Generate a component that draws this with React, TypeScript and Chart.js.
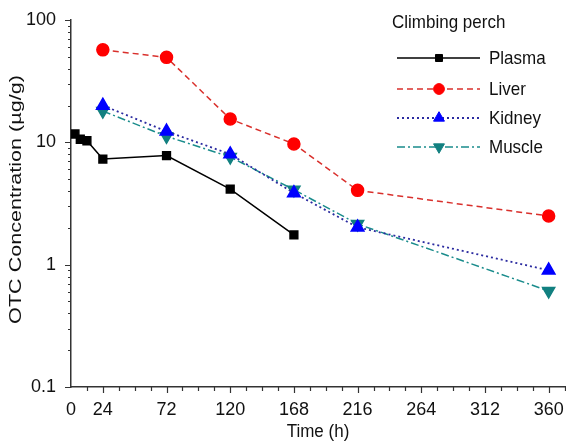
import React, { useEffect, useRef } from "react";
import { Chart, registerables } from "chart.js";
import { drawPoint } from "chart.js/helpers";

Chart.register(...registerables);

const plasmaTimes = [3, 7, 12, 24, 72, 120, 168];
const plasmaValues = [11.7, 10.6, 10.3, 7.3, 7.8, 4.15, 1.75];
const tissueTimes = [24, 72, 120, 168, 216, 360];
const liverValues = [57, 49.5, 15.5, 9.7, 4.05, 2.5];
const kidneyValues = [20, 12.3, 8.0, 3.85, 2.02, 0.9];
const muscleValues = [18, 11.2, 7.6, 4.1, 2.15, 0.61];

const xLabelTicks = [0, 24, 72, 120, 168, 216, 264, 312, 360];
const yLabelTicks = [0.1, 1, 10, 100];
const legendTitle = "Climbing perch";
const seriesNames = ["Plasma", "Liver", "Kidney", "Muscle"];
const xTitle = "Time (h)";
const yTitle = "OTC Concentration (\u00b5g/g)";

const FONT = "'Liberation Sans', Arial, sans-serif";
const AXIS_COLOR = "#333333";
const TEXT_COLOR = "#111111";
const CANVAS_W = 580;

const toPts = (xs: number[], ys: number[]) => xs.map((x, i) => ({ x, y: ys[i] }));

const axisTicksPlugin = {
  id: "axisTicks",
  afterDraw(chart: any) {
    const { ctx, chartArea, scales } = chart;
    const xs = scales.x;
    const ys = scales.y;
    ctx.save();
    ctx.strokeStyle = AXIS_COLOR;
    ctx.lineWidth = 1.2;
    ctx.beginPath();
    for (let t = 12; t <= 384; t += 12) {
      const px = Math.round(xs.getPixelForValue(t)) + 0.5;
      if (px > chartArea.right) break;
      const len = xLabelTicks.includes(t) ? 6 : 4;
      ctx.moveTo(px, chartArea.bottom);
      ctx.lineTo(px, chartArea.bottom + len);
    }
    for (let d = 0.1; d < 100; d *= 10) {
      for (let m = 1; m <= 10; m++) {
        const py = Math.round(ys.getPixelForValue(d * m)) + 0.5;
        const len = m === 1 || m === 10 ? 6 : 3;
        ctx.moveTo(chartArea.left, py);
        ctx.lineTo(chartArea.left - len, py);
      }
    }
    ctx.stroke();
    ctx.restore();
  },
};

const yTitlePlugin = {
  id: "yTitle",
  afterDraw(chart: any) {
    const { ctx, chartArea } = chart;
    const cy = (chartArea.top + chartArea.bottom) / 2 - 4;
    ctx.save();
    ctx.translate(16, cy);
    ctx.rotate(-Math.PI / 2);
    ctx.scale(1.27, 1);
    ctx.font = `17px ${FONT}`;
    ctx.fillStyle = TEXT_COLOR;
    ctx.textAlign = "center";
    ctx.textBaseline = "middle";
    ctx.fillText(yTitle, 0, 0);
    ctx.restore();
  },
};

const xTitlePlugin = {
  id: "xTitle",
  afterDraw(chart: any) {
    const { ctx, chartArea } = chart;
    ctx.save();
    ctx.font = `17px ${FONT}`;
    ctx.fillStyle = TEXT_COLOR;
    ctx.textAlign = "center";
    ctx.textBaseline = "middle";
    ctx.translate((chartArea.left + 565) / 2, 432);
    ctx.scale(1, 1.1);
    ctx.fillText(xTitle, 0, 0);
    ctx.restore();
  },
};

const legendPlugin = {
  id: "customLegend",
  afterDraw(chart: any) {
    const { ctx } = chart;
    const text = (s: string, x: number, y: number) => {
      ctx.save();
      ctx.translate(x, y);
      ctx.scale(1, 1.12);
      ctx.font = `17px ${FONT}`;
      ctx.fillStyle = TEXT_COLOR;
      ctx.textBaseline = "middle";
      ctx.textAlign = "left";
      ctx.fillText(s, 0, 0);
      ctx.restore();
    };
    text(legendTitle, 392, 23);
    const rowsY = [58, 89, 118, 147];
    chart.data.datasets.forEach((ds: any, i: number) => {
      const y = rowsY[i];
      ctx.save();
      ctx.strokeStyle = ds.borderColor;
      ctx.lineWidth = ds.borderWidth;
      ctx.setLineDash(ds.borderDash || []);
      ctx.beginPath();
      ctx.moveTo(397, y);
      ctx.lineTo(480, y);
      ctx.stroke();
      ctx.restore();
      ctx.save();
      ctx.fillStyle = ds.pointBackgroundColor;
      ctx.strokeStyle = ds.pointBorderColor;
      drawPoint(
        ctx,
        {
          pointStyle: ds.pointStyle,
          rotation: ds.pointRotation || 0,
          radius: ds.pointRadius * 0.9,
          borderWidth: 1,
        },
        439,
        y
      );
      ctx.restore();
      text(seriesNames[i], 489, y + 1);
    });
  },
};

export default function App() {
  const ref = useRef<HTMLCanvasElement | null>(null);

  useEffect(() => {
    if (!ref.current) return;
    const chart = new Chart(ref.current, {
      type: "line",
      data: {
        datasets: [
          {
            label: seriesNames[0],
            data: toPts(plasmaTimes, plasmaValues),
            borderColor: "#000000",
            borderWidth: 1.5,
            pointStyle: "rect",
            pointRadius: 5.5,
            pointBackgroundColor: "#000000",
            pointBorderColor: "#000000",
          },
          {
            label: seriesNames[1],
            data: toPts(tissueTimes, liverValues),
            borderColor: "#d9302c",
            borderWidth: 1.5,
            borderDash: [6, 4],
            pointStyle: "circle",
            pointRadius: 6,
            pointBackgroundColor: "#ff0000",
            pointBorderColor: "#ff0000",
          },
          {
            label: seriesNames[2],
            data: toPts(tissueTimes, kidneyValues),
            borderColor: "#2b2ba0",
            borderWidth: 1.8,
            borderDash: [2, 3],
            pointStyle: "triangle",
            pointRadius: 7,
            pointBackgroundColor: "#0000ff",
            pointBorderColor: "#0000ff",
          },
          {
            label: seriesNames[3],
            data: toPts(tissueTimes, muscleValues),
            borderColor: "#1a8c8c",
            borderWidth: 1.5,
            borderDash: [8, 3, 2, 3],
            pointStyle: "triangle",
            pointRotation: 180,
            pointRadius: 7,
            pointBackgroundColor: "#128080",
            pointBorderColor: "#128080",
          },
        ],
      },
      options: {
        animation: false,
        responsive: false,
        maintainAspectRatio: false,
        layout: { padding: { top: 20, right: 1, left: 0, bottom: 0 } },
        plugins: { legend: { display: false }, tooltip: { enabled: false } },
        elements: { line: { tension: 0 } },
        scales: {
          x: {
            type: "linear",
            min: 0,
            max: 377,
            afterBuildTicks: (s: any) => {
              s.ticks = xLabelTicks.map((v) => ({ value: v }));
            },
            afterFit: (s: any) => {
              s.height = 55;
              s.paddingLeft = 0;
              s.paddingRight = 0;
            },
            ticks: {
              autoSkip: false,
              maxRotation: 0,
              padding: 4,
              color: TEXT_COLOR,
              font: { family: FONT, size: 18 },
              callback: (v: any) => String(v),
            },
            grid: { display: false },
            border: { display: true, color: AXIS_COLOR, width: 1.5 },
            title: { display: false },
          },
          y: {
            type: "logarithmic",
            min: 0.1,
            max: 100,
            afterBuildTicks: (s: any) => {
              s.ticks = yLabelTicks.map((v) => ({ value: v }));
            },
            afterFit: (s: any) => {
              s.width = 71;
              s.paddingTop = 0;
              s.paddingBottom = 0;
            },
            ticks: {
              padding: 7,
              color: TEXT_COLOR,
              font: { family: FONT, size: 18 },
              callback: (v: any) => String(v),
            },
            grid: { display: false },
            border: { display: true, color: AXIS_COLOR, width: 1.5 },
            title: { display: false },
          },
        },
      },
      plugins: [axisTicksPlugin, xTitlePlugin, yTitlePlugin, legendPlugin],
    });
    return () => chart.destroy();
  }, []);

  return (
    <div
      style={{
        position: "fixed",
        left: 0,
        top: 0,
        width: 566,
        height: 442,
        overflow: "hidden",
        background: "#fff",
      }}
    >
      <canvas
        ref={ref}
        width={CANVAS_W}
        height={442}
        style={{ width: CANVAS_W, height: 442, display: "block" }}
      />
    </div>
  );
}
